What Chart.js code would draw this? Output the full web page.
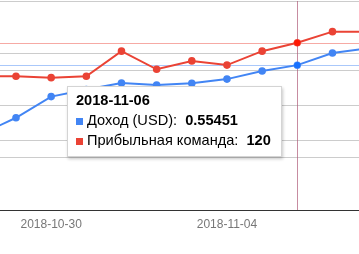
<!DOCTYPE html>
<html>
<head>
<meta charset="utf-8">
<script src="https://cdn.jsdelivr.net/npm/chart.js@4/dist/chart.umd.min.js"></script>
<style>
  html, body { margin: 0; padding: 0; background: #fff; overflow: hidden; }
  #wrap { position: relative; width: 359px; height: 254px; }
  #tt {
    position: absolute; display: none; box-sizing: border-box;
    width: 215px; background: #fff; border: 1px solid #d4d4d4;
    box-shadow: 1px 2px 3px rgba(0,0,0,0.22);
    padding: 3px 8px 6px 8px;
    font-family: "Liberation Sans", Arial, sans-serif; font-size: 14.6px; color: #000;
    line-height: 20px; white-space: nowrap; pointer-events: none;
  }
  #tt .t { font-weight: bold; }
  #tt .sq { display: inline-block; width: 7px; height: 7px; margin-right: 4px; vertical-align: 0px; }
  #tt b { font-weight: bold; margin-left: 4px; }
</style>
</head>
<body>
<div id="wrap">
  <canvas id="c" width="359" height="254"></canvas>
  <div id="tt"></div>
</div>
<script>
const dates = ['2018-10-28','2018-10-29','2018-10-30','2018-10-31','2018-11-01','2018-11-02',
               '2018-11-03','2018-11-04','2018-11-05','2018-11-06','2018-11-07','2018-11-08'];
const revenueUSD = [0.290, 0.353, 0.434, 0.461, 0.486, 0.478, 0.485, 0.501, 0.532, 0.55451, 0.601, 0.619];
const profitableTeams = [96, 96, 95, 96, 114, 101, 107, 104, 114, 120, 128, 128];
const tickDates = ['2018-10-30', '2018-11-04'];
const seriesNames = ['Доход (USD)', 'Прибыльная команда'];
const hoverDate = '2018-11-06';

const BLUE = '#4285f4', RED = '#ea4335';

const crosshair = {
  id: 'crosshair',
  beforeDatasetsDraw(chart) {
    const act = chart.getActiveElements();
    if (!act.length) return;
    const {ctx, chartArea: a} = chart;
    ctx.save();
    ctx.lineWidth = 1;
    const cols = ['rgba(66,133,244,0.45)', 'rgba(234,67,53,0.45)'];
    act.forEach(e => {
      const p = chart.getDatasetMeta(e.datasetIndex).data[e.index];
      ctx.strokeStyle = cols[e.datasetIndex];
      const x = Math.round(p.x) + 0.5, y = Math.round(p.y) + 0.5;
      ctx.beginPath(); ctx.moveTo(x, a.top); ctx.lineTo(x, a.bottom); ctx.stroke();
      ctx.beginPath(); ctx.moveTo(a.left, y); ctx.lineTo(a.right, y); ctx.stroke();
    });
    ctx.restore();
  }
};

function externalTooltip(context) {
  const {chart, tooltip} = context;
  const el = document.getElementById('tt');
  if (tooltip.opacity === 0 || !tooltip.dataPoints || !tooltip.dataPoints.length) { el.style.display = 'none'; return; }
  const dps = tooltip.dataPoints.slice().sort((a, b) => a.datasetIndex - b.datasetIndex);
  const idx = dps[0].parsed.x;
  let html = '<div class="t">' + dates[idx] + '</div>';
  const colors = [BLUE, RED];
  dps.forEach(dp => {
    html += '<div><span class="sq" style="background:' + colors[dp.datasetIndex] + '"></span>' +
      seriesNames[dp.datasetIndex] + ': <b>' + dp.raw.y + '</b></div>';
  });
  el.innerHTML = html;
  el.style.display = 'block';
  const px = chart.scales.x.getPixelForValue(idx);
  el.style.left = Math.round(px - 230) + 'px';
  el.style.top = '86px';
}

const chart = new Chart(document.getElementById('c'), {
  type: 'line',
  data: {
    datasets: [
      {
        label: seriesNames[0],
        data: dates.map((d, i) => ({x: i, y: revenueUSD[i]})),
        borderColor: BLUE, backgroundColor: BLUE,
        borderWidth: 2, pointRadius: 2.8, pointHoverRadius: 3.5, pointHoverBorderWidth: 1,
        pointBorderColor: BLUE, pointHoverBorderColor: 'rgba(66,133,244,0.5)',
        tension: 0, yAxisID: 'y'
      },
      {
        label: seriesNames[1],
        data: dates.map((d, i) => ({x: i, y: profitableTeams[i]})),
        borderColor: RED, backgroundColor: RED,
        borderWidth: 2, pointRadius: 2.8, pointHoverRadius: 3.5, pointHoverBorderWidth: 1,
        pointBorderColor: RED, pointHoverBorderColor: 'rgba(234,67,53,0.5)',
        tension: 0, yAxisID: 'y2'
      }
    ]
  },
  options: {
    responsive: false,
    animation: false,
    events: [],
    layout: { autoPadding: false, padding: { top: 1, left: 0, right: 0, bottom: 15.6 } },
    interaction: { mode: 'index', intersect: false },
    plugins: {
      legend: { display: false },
      tooltip: { enabled: false, external: externalTooltip }
    },
    scales: {
      x: {
        type: 'linear',
        min: 0.545, max: 10.755,
        afterBuildTicks(scale) {
          scale.ticks = tickDates.map(d => ({ value: dates.indexOf(d) }));
        },
        grid: { display: false, drawTicks: false },
        border: { display: true, color: '#333333', width: 1 },
        ticks: {
          padding: 7,
          color: '#777777',
          font: { family: '"Liberation Sans", Arial, sans-serif', size: 12 },
          maxRotation: 0,
          callback: (v) => dates[v]
        }
      },
      y: {
        position: 'left',
        min: 0, max: 0.8,
        ticks: { display: false, stepSize: 0.2 },
        grid: { color: '#cccccc', drawTicks: false },
        border: { display: false }
      },
      y2: {
        position: 'right',
        min: 0, max: 150,
        ticks: { display: false, stepSize: 50 },
        grid: { color: '#cccccc', drawTicks: false },
        border: { display: false }
      }
    }
  },
  plugins: [crosshair]
});

const hi = dates.indexOf(hoverDate);
const act = [{datasetIndex: 0, index: hi}, {datasetIndex: 1, index: hi}];
chart.setActiveElements(act);
chart.tooltip.setActiveElements(act, {x: chart.scales.x.getPixelForValue(hi), y: 60});
chart.update('none');
</script>
</body>
</html>
